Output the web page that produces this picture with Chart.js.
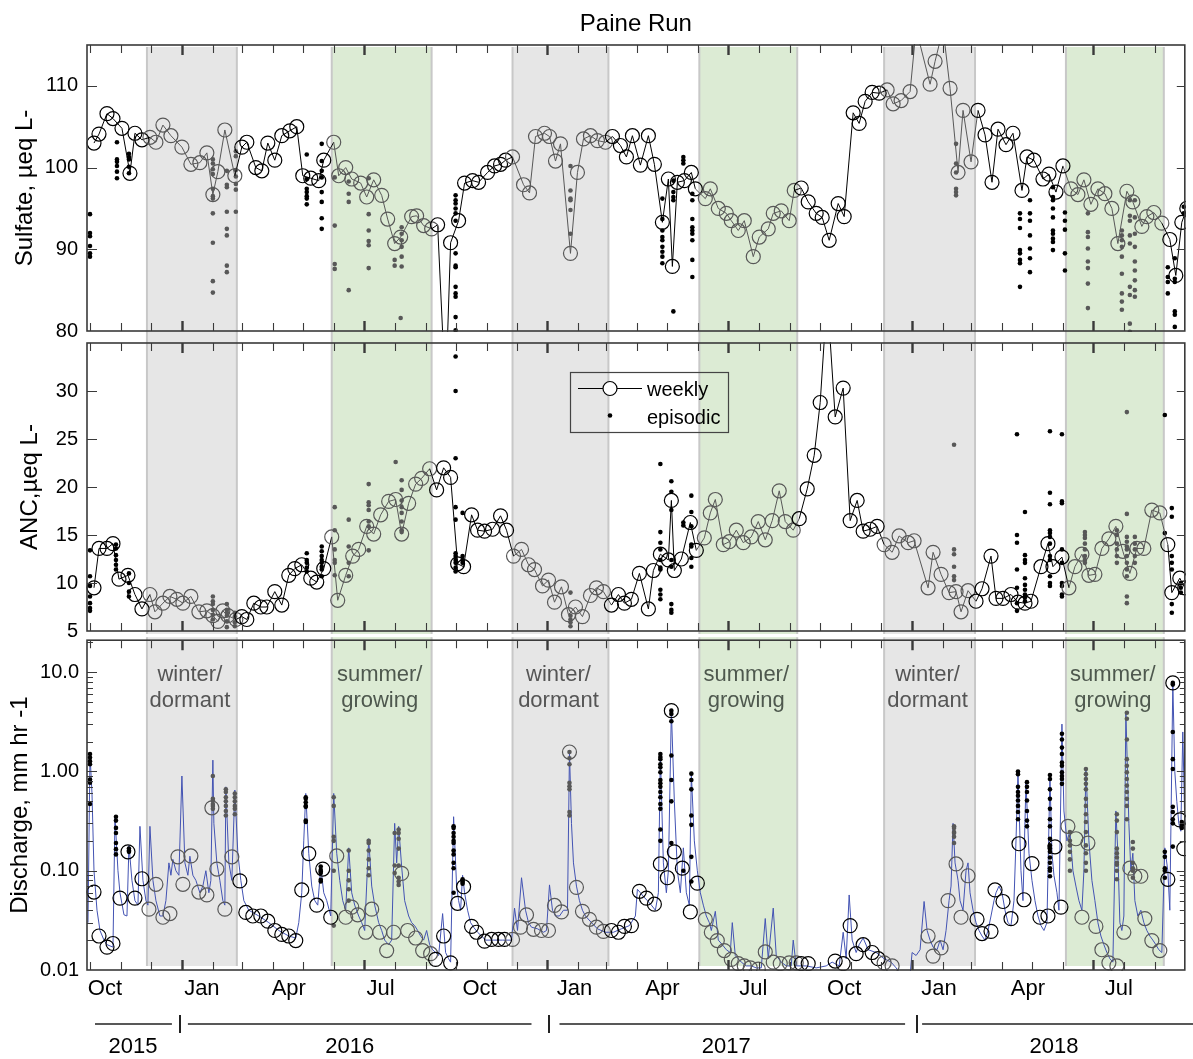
<!DOCTYPE html>
<html><head><meta charset="utf-8">
<script src="https://cdn.jsdelivr.net/npm/chart.js@4.4.1/dist/chart.umd.min.js"></script>
<style>
html,body{margin:0;padding:0;background:#fff;}
#wrap{position:relative;width:1193px;height:1059px;overflow:hidden;background:#fff;}
canvas{position:absolute;left:0;}
</style></head><body>
<div id="wrap">
<canvas id="cS" width="1193" height="345" style="top:0px"></canvas>
<canvas id="cA" width="1193" height="312" style="top:330px"></canvas>
<canvas id="cQ" width="1193" height="427" style="top:632px"></canvas>
</div>
<script>
// ---------- time axis: days since 2015-10-01 ----------
const xMin = -3, xMax = 1096;
const monthTickDays = [0,31,61,92,123,152,183,213,244,274,305,336,366,397,427,458,489,517,548,578,609,639,670,701,731,762,792,823,854,882,913,943,974,1004,1035,1066,1096];
const boldTickDays = [92,274,458,639,823,1004];
const monthLabels = ['Oct','Jan','Apr','Jul','Oct','Jan','Apr','Jul','Oct','Jan','Apr','Jul'];
const monthLabelDays = [15,112,199,291,390,485,573,664,755,850,939,1030];
const yearLabels = ['2015','2016','2017','2018'];
const yearLabelDays = [43,260,637,965];
const yearBreakDays = [90,460,828];
const winterBands = [[57,147],[423,519],[795,886]];
const summerBands = [[242,342],[610,708],[977,1075]];
const winterText = ['winter/','dormant'];
const summerText = ['summer/','growing'];

// ---------- Sulfate (ueq/L) ----------
const sulfTicks = [80,90,100,110];
const sulfWeekly = [[4,103.0],[9,104.1],[17,106.6],[23,106.0],[32,104.8],[40,99.3],[45,104.2],[52,103.4],[60,103.7],[66,103.1],[73,105.2],[81,103.9],[92,102.5],[101,100.4],[110,100.6],[117,101.8],[123,96.7],[128,99.5],[135,104.6],[145,99.0],[152,102.5],[157,103.1],[166,100.0],[172,99.6],[178,103.0],[185,100.9],[192,103.9],[200,104.5],[207,105.0],[213,99.0],[221,98.7],[229,98.4],[234,100.9],[244,103.1],[249,99.0],[256,100.0],[262,98.6],[271,98.1],[277,96.4],[284,98.5],[292,96.6],[298,93.7],[305,90.7],[311,91.5],[322,94.0],[327,94.1],[334,92.9],[342,92.5],[348,93.0],[356,72],[361,90.8],[369,93.5],[375,98.1],[383,98.4],[389,98.2],[398,99.4],[405,100.2],[411,100.4],[416,100.9],[423,101.3],[434,97.9],[440,96.9],[446,103.8],[455,104.2],[460,103.8],[466,100.8],[471,102.9],[481,89.5],[488,99.4],[494,103.5],[501,103.9],[508,103.3],[516,103.1],[523,103.8],[531,102.7],[537,101.3],[543,103.9],[551,100.3],[559,103.9],[565,100.4],[573,93.3],[579,98.6],[583,87.9],[588,98.2],[595,98.4],[602,99.4],[606,97.4],[616,96.2],[621,97.4],[629,95.0],[637,94.4],[642,93.5],[649,92.3],[655,93.5],[664,89.1],[670,91.5],[679,92.5],[684,94.4],[692,94.7],[700,93.5],[705,97.2],[712,97.5],[719,95.8],[727,94.4],[733,93.9],[740,91.1],[749,95.6],[755,94.0],[764,106.7],[770,105.4],[776,108.1],[783,109.2],[790,109.1],[798,109.5],[804,107.8],[812,108.2],[821,109.3],[827,117],[841,110.2],[846,113.0],[854,117],[861,109.7],[869,99.4],[874,107.0],[882,100.7],[889,107.0],[896,104.0],[903,98.2],[909,104.7],[917,102.8],[924,104.2],[933,97.2],[938,101.3],[945,100.9],[954,98.6],[960,99.2],[967,97.0],[974,100.2],[982,97.4],[989,96.7],[995,98.5],[1002,95.5],[1009,97.4],[1016,96.8],[1023,95.0],[1029,90.7],[1038,97.1],[1044,95.8],[1053,92.8],[1058,94.0],[1065,94.5],[1073,93.2],[1081,91.2],[1087,86.8],[1093,93.3],[1098,95.0]];
const sulfEpisodic = [
 [0,[94.3,92.0,91.6,90.4,89.5,89.1]],
 [27,[103.1,101.0,100.7,100.2,99.5,98.7]],
 [39,[101.7,101.3,101.0,100.1,99.3]],
 [123,[101.0,100.5,99.8,99.2,97.4,96.5,96.2,94.4,90.8,86.1,84.7]],
 [137,[99.6,97.9,97.6,94.6,92.5,91.7,88.0,87.2]],
 [146,[102.0,101.4,99.7,98.9,98.0,97.3,94.6]],
 [217,[101.6,98.6,97.4,97.0,96.5,96.2,95.5]],
 [232,[102.9,100.8,99.6,98.8,97.0,95.8,93.8,92.5]],
 [245,[98.8,92.9,88.2,87.6]],
 [259,[98.3,96.8,95.8,85.0]],
 [279,[98.7,94.3,92.3,91.0,90.5,87.7]],
 [305,[88.7,88.0]],
 [311,[81.6]],
 [312,[92.7,91.9,91.1,90.3,89.1,87.9]],
 [366,[96.6,96.0,95.6,95.0,94.4,93.5,89.5,88.0,87.8,85.4,84.6,84.2,81.7,80.1]],
 [481,[100.2,97.2,96.2,96.0,94.8,91.9]],
 [573,[96.2,93.7,92.3,91.5,91.1,90.3,89.7,89.1,88.3]],
 [584,[98.4,97.0,96.4,96.0,82.4]],
 [594,[101.3,100.9,100.5]],
 [603,[96.8,96.0,93.7,92.7,92.3,91.9,91.1,88.7,86.6]],
 [867,[102.9,100.5,99.4,97.4,97.0,96.6]],
 [931,[94.4,93.7,92.6,89.9,89.5,88.7,88.3,85.4]],
 [941,[96.0,94.4,93.5,91.7,90.1,88.9,87.2]],
 [964,[97.6,96.4,96.0,95.0,93.9,92.3,91.9,91.3,90.9,89.9]],
 [976,[94.5,93.5,92.4,89.5,87.4]],
 [999,[94.4,92.1,91.5,90.1,88.5,87.7,85.8,82.8]],
 [1033,[92.3,91.7,91.1,90.3,89.1,87.0,84.6,83.6,82.6]],
 [1041,[96.0,94.1,93.5,91.7,90.7,85.4,84.4,80.9,79.9]],
 [1046,[96.0,93.9,91.9,90.3,88.5,87.4,86.2,85.0,84.2]],
 [1079,[87.8,86.6,86.0,84.6]],
 [1086,[88.9,86.4,86.0,82.4,82.0,80.5]],
 [1095,[95.2,94.4]]
];

// ---------- ANC (ueq/L) ----------
const ancTicks = [5,10,15,20,25,30];
const ancWeekly = [[4,9.5],[9,13.6],[17,13.6],[23,14.1],[29,10.4],[38,10.8],[45,8.8],[52,7.3],[60,8.8],[65,7.0],[73,7.9],[80,8.6],[87,8.3],[93,7.9],[101,8.6],[109,7.0],[117,7.1],[123,6.6],[128,6.0],[133,7.1],[138,6.6],[146,6.2],[152,6.5],[157,6.2],[164,7.9],[171,7.5],[177,7.5],[185,9.1],[192,7.7],[199,10.8],[205,11.5],[212,11.9],[221,10.5],[227,10.1],[234,11.5],[242,14.8],[248,8.2],[256,10.8],[263,12.8],[269,13.5],[277,15.9],[284,15.1],[291,17.1],[299,18.5],[306,18.7],[312,15.1],[319,18.3],[326,20.3],[332,20.9],[340,21.9],[347,19.7],[354,22.0],[361,21.0],[368,12.0],[374,11.7],[382,17.1],[388,15.5],[395,15.4],[403,15.6],[411,17.0],[417,15.5],[424,12.8],[432,13.5],[439,11.9],[445,11.4],[453,9.7],[459,10.3],[465,8.0],[472,9.6],[479,6.7],[486,7.5],[493,6.5],[501,8.7],[507,9.5],[514,9.1],[522,7.7],[529,8.8],[535,7.9],[542,8.3],[550,11.0],[559,7.3],[564,11.3],[571,13.0],[579,12.4],[582,18.6],[585,11.3],[592,12.5],[601,16.3],[607,13.4],[615,14.7],[621,17.3],[626,18.7],[634,14.0],[640,14.3],[647,15.5],[654,14.2],[662,14.8],[669,16.4],[676,14.5],[683,16.5],[690,19.6],[696,16.4],[704,15.5],[710,16.7],[718,19.8],[725,23.3],[731,28.8],[738,40],[746,27.3],[754,30.3],[761,16.5],[768,18.6],[774,15.4],[781,15.6],[788,15.9],[795,14.0],[803,13.2],[810,14.9],[819,14.2],[825,14.4],[839,9.5],[844,13.2],[852,10.9],[860,9.0],[867,9.1],[872,7.0],[879,9.2],[887,8.1],[893,9.4],[902,12.8],[907,8.4],[914,8.4],[922,8.8],[929,8.0],[936,7.9],[942,8.1],[952,11.7],[959,14.1],[964,11.7],[973,12.7],[980,9.5],[986,11.7],[993,13.0],[1000,10.8],[1006,10.9],[1013,13.6],[1020,14.6],[1027,15.9],[1034,13.3],[1041,11.0],[1048,13.6],[1055,13.6],[1063,17.6],[1071,17.3],[1079,14.0],[1083,9.0],[1091,10.5],[1096,9.5]];
const ancEpisodic = [
 [0,[13.4,10.7,9.7,8.6,7.9,7.4,7.1]],
 [26,[14.0,13.6,12.9,12.4,11.9,11.4]],
 [39,[11.0,10.0,9.1,8.6]],
 [123,[8.6,8.1,7.8,7.2,6.7,6.2]],
 [137,[7.8,7.2,6.9,6.6,6.0,5.4]],
 [145,[6.9,6.5,5.9,5.5]],
 [217,[13.1,12.4,12.1,11.6,11.2]],
 [232,[13.8,13.3,12.8,12.4,12.1,11.7,11.4,10.7]],
 [245,[17.9,15.5,13.5,12.4,12.1,10.8]],
 [259,[16.6,13.8,12.1,10.7]],
 [279,[20.3,18.4,18.1,17.6,16.4,15.9,13.4]],
 [306,[22.6]],
 [312,[20.7,19.7,18.6,17.9,17.3,16.4,15.5,15.3]],
 [366,[33.6,30.0,23.0,17.9,16.6,13.1,12.8,12.4,12.1,11.6,11.2]],
 [373,[17.3,12.8,12.4,12.1]],
 [481,[9.0,6.6,6.2,5.9,5.5]],
 [571,[22.4,15.3,14.2,13.5,12.4,11.6,11.4,9.3,8.8,8.3]],
 [582,[20.6,19.5,17.6,12.4,11.7,7.8,7.2,6.9]],
 [594,[16.3,16.0]],
 [602,[19.1,17.4,15.9,14.0,13.8,12.6,11.7]],
 [865,[24.4,13.5,13.0,11.7,10.7,10.3]],
 [928,[25.5,15.0,14.2,11.4,9.5,7.9,7.1]],
 [936,[17.4,12.9,12.4,12.1,10.5,9.8,9.3,8.8,8.5,8.1]],
 [961,[25.8,19.4,18.2,15.5,15.2,14.8,14.1,12.8,12.4,10.7,10.0,9.7]],
 [973,[25.5,18.5,18.3,13.5,12.1,10.0,9.7,8.8,8.6]],
 [996,[15.3,15.0,14.7,14.1,13.5,12.8,12.4,12.1]],
 [1028,[15.5,15.0,14.1,13.5,12.8,12.1]],
 [1038,[27.8,17.2,14.8,14.3,13.8,13.5,12.8,12.1,11.4,10.7,8.6,7.9]],
 [1046,[14.8,14.1,13.5,12.8,12.1]],
 [1076,[27.5,15.2]],
 [1083,[17.8,16.9,12.8,12.1,11.4,7.8,6.9]],
 [1092,[10.0,9.5,9.0]]
];

// ---------- Discharge (mm/hr) ----------
const qTicks = [0.01,0.1,1,10];
const qTickLabels = ['0.01','0.10','1.00','10.0'];
const qWeekly = [[4,0.061],[9,0.022],[17,0.017],[23,0.0185],[30,0.053],[38,0.155],[45,0.053],[52,0.083],[59,0.041],[66,0.073],[73,0.034],[80,0.037],[88,0.138],[93,0.073],[101,0.141],[109,0.061],[117,0.057],[122,0.43],[127,0.104],[135,0.041],[142,0.138],[150,0.079],[156,0.038],[163,0.035],[171,0.035],[178,0.031],[185,0.025],[192,0.0228],[199,0.022],[206,0.0198],[212,0.064],[219,0.149],[227,0.045],[233,0.104],[241,0.034],[247,0.141],[256,0.034],[262,0.043],[268,0.036],[276,0.024],[282,0.041],[290,0.024],[297,0.0157],[304,0.024],[312,0.094],[318,0.025],[326,0.021],[333,0.0157],[341,0.0146],[346,0.0128],[354,0.022],[361,0.0118],[368,0.047],[374,0.069],[382,0.0275],[387,0.024],[395,0.0195],[402,0.0203],[409,0.0203],[415,0.0203],[423,0.0203],[431,0.027],[437,0.036],[444,0.0257],[452,0.025],[459,0.025],[465,0.0447],[472,0.0385],[480,1.57],[487,0.068],[493,0.039],[500,0.0324],[507,0.027],[514,0.0245],[522,0.025],[529,0.024],[535,0.0275],[542,0.028],[550,0.062],[557,0.053],[565,0.046],[571,0.117],[578,0.085],[582,4.1],[585,0.155],[593,0.106],[601,0.0385],[608,0.075],[616,0.0324],[622,0.024],[628,0.0198],[635,0.0157],[642,0.0128],[649,0.0116],[655,0.011],[661,0.0105],[669,0.0102],[676,0.0152],[684,0.012],[691,0.0116],[700,0.0118],[707,0.0118],[712,0.0116],[719,0.0116],[746,0.0123],[754,0.0116],[761,0.028],[767,0.0146],[774,0.018],[783,0.015],[789,0.013],[795,0.0118],[803,0.011],[839,0.022],[844,0.0138],[852,0.0167],[859,0.05],[867,0.117],[872,0.034],[879,0.089],[888,0.0324],[893,0.0233],[902,0.0245],[906,0.064],[914,0.049],[922,0.0329],[930,0.187],[935,0.051],[943,0.118],[951,0.034],[959,0.035],[966,0.174],[972,0.043],[979,0.28],[987,0.21],[993,0.034],[999,0.19],[1007,0.0275],[1013,0.016],[1020,0.0118],[1028,0.011],[1035,0.024],[1041,0.106],[1046,0.088],[1052,0.088],[1056,0.033],[1063,0.0198],[1071,0.0157],[1079,0.082],[1084,7.8],[1091,0.325],[1095,0.167]];
const qEpisodic = [
 [0,[1.5,1.38,1.27,1.18,0.83,0.77,0.47]],
 [26,[0.35,0.32,0.27,0.24,0.19,0.165,0.146]],
 [39,[0.167,0.16,0.155]],
 [123,[0.9,0.53,0.51,0.47,0.45,0.42]],
 [136,[0.66,0.62,0.55,0.5,0.45,0.4,0.36]],
 [145,[0.6,0.55,0.5,0.45,0.42,0.37]],
 [216,[0.55,0.53,0.49,0.45,0.44,0.32,0.31]],
 [231,[0.11,0.102,0.098,0.095,0.081,0.078]],
 [244,[0.55,0.45,0.22,0.2,0.1,0.028]],
 [259,[0.16,0.1,0.08,0.065,0.05]],
 [279,[0.2,0.19,0.16,0.13,0.106,0.09]],
 [305,[0.24,0.113,0.095]],
 [309,[0.26,0.24,0.21,0.167,0.113,0.085,0.078,0.072]],
 [364,[0.28,0.27,0.24,0.22,0.2,0.19,0.16,0.146,0.12,0.106,0.06]],
 [373,[0.082,0.079,0.077,0.074]],
 [480,[1.57,1.36,1.18,0.77,0.71,0.66,0.39,0.36]],
 [571,[1.5,1.4,1.33,1.18,1.1,0.98,0.82,0.76,0.7,0.62,0.55,0.47,0.42,0.26,0.2]],
 [582,[4.1,3.8,3.2,1.45,0.82,0.5,0.19]],
 [594,[0.1]],
 [602,[0.95,0.82,0.66,0.36,0.29,0.138,0.078]],
 [865,[0.28,0.27,0.245,0.24,0.22,0.19]],
 [929,[1.0,0.94,0.7,0.62,0.57,0.51,0.45,0.39,0.33]],
 [938,[0.78,0.7,0.62,0.51,0.4,0.32,0.28]],
 [961,[0.92,0.84,0.66,0.53,0.42,0.33,0.28,0.21,0.18,0.167,0.155,0.136,0.12,0.106,0.1,0.088]],
 [973,[2.4,2.1,1.74,1.5,1.23,1.14,0.98,0.9,0.84,0.75]],
 [981,[0.245,0.2,0.18,0.155,0.13,0.1]],
 [997,[1.06,0.94,0.84,0.75,0.66,0.53,0.45,0.37,0.31,0.245,0.18,0.15,0.12,0.1]],
 [1028,[0.37,0.32,0.245,0.167,0.15,0.136,0.12,0.115,0.1,0.082]],
 [1038,[3.9,3.4,2.1,1.33,1.14,0.98,0.84,0.72,0.62,0.53,0.45,0.33]],
 [1044,[0.195,0.167,0.12,0.106,0.1,0.085]],
 [1076,[0.155,0.138,0.106,0.1,0.085]],
 [1084,[7.8,7.5,2.5,1.33,1.06,0.44,0.39,0.33,0.3,0.175]],
 [1093,[0.31,0.29,0.27]]
];
const qContinuous = [[-2,0.03],[0,1.5],[2,0.6],[4,0.1],[7,0.04],[10,0.025],[14,0.02],[17,0.018],[23,0.017],[25,0.35],[28,0.1],[30,0.06],[34,0.036],[37,0.035],[39,0.18],[42,0.08],[45,0.05],[48,0.045],[50,0.28],[53,0.08],[56,0.05],[58,0.045],[60,0.28],[63,0.08],[66,0.05],[70,0.035],[73,0.035],[76,0.05],[79,0.12],[81,0.09],[83,0.13],[86,0.1],[89,0.09],[92,0.9],[95,0.12],[98,0.09],[100,0.14],[103,0.09],[106,0.08],[110,0.06],[113,0.07],[116,0.1],[119,0.06],[121,0.08],[123,1.3],[124,0.3],[127,0.12],[130,0.08],[133,0.05],[135,0.045],[136,0.7],[139,0.12],[142,0.08],[145,0.65],[148,0.15],[151,0.08],[154,0.05],[159,0.04],[169,0.035],[179,0.03],[189,0.025],[199,0.022],[206,0.021],[209,0.03],[212,0.06],[214,0.2],[216,0.6],[219,0.15],[222,0.07],[225,0.05],[228,0.045],[231,0.11],[234,0.06],[237,0.05],[241,0.035],[244,0.6],[247,0.15],[250,0.08],[253,0.05],[256,0.04],[259,0.17],[262,0.06],[265,0.045],[269,0.035],[272,0.03],[275,0.025],[279,0.21],[282,0.07],[285,0.045],[289,0.03],[292,0.025],[295,0.02],[299,0.018],[302,0.02],[305,0.3],[307,0.12],[309,0.28],[312,0.11],[315,0.05],[319,0.035],[322,0.03],[325,0.028],[328,0.025],[331,0.022],[334,0.02],[337,0.025],[340,0.018],[343,0.016],[346,0.015],[349,0.014],[353,0.037],[356,0.015],[359,0.013],[361,0.012],[364,0.35],[367,0.07],[369,0.05],[371,0.04],[373,0.09],[375,0.06],[378,0.04],[381,0.03],[384,0.027],[388,0.024],[392,0.022],[396,0.02],[404,0.02],[413,0.02],[422,0.02],[425,0.042],[428,0.025],[432,0.085],[436,0.04],[439,0.03],[442,0.027],[448,0.026],[454,0.024],[457,0.025],[460,0.072],[463,0.04],[466,0.035],[470,0.035],[474,0.04],[478,0.04],[480,1.57],[482,0.3],[484,0.12],[487,0.07],[490,0.05],[493,0.04],[496,0.035],[502,0.03],[508,0.026],[516,0.024],[524,0.024],[532,0.026],[540,0.028],[546,0.035],[548,0.065],[551,0.06],[554,0.055],[558,0.05],[562,0.045],[566,0.04],[569,0.06],[571,1.5],[574,0.12],[577,0.06],[579,0.1],[582,4.1],[585,0.5],[588,0.1],[591,0.06],[594,0.17],[597,0.06],[600,0.045],[602,0.95],[605,0.2],[608,0.1],[611,0.06],[614,0.045],[617,0.035],[620,0.03],[622,0.025],[626,0.039],[629,0.02],[633,0.018],[637,0.016],[641,0.015],[643,0.03],[646,0.014],[652,0.012],[657,0.011],[662,0.011],[667,0.0105],[672,0.0105],[676,0.033],[679,0.013],[684,0.042],[687,0.014],[692,0.012],[697,0.011],[702,0.011],[704,0.02],[707,0.011],[717,0.011],[727,0.0105],[737,0.011],[743,0.012],[750,0.011],[754,0.024],[757,0.013],[760,0.057],[763,0.02],[767,0.015],[770,0.018],[774,0.021],[779,0.016],[787,0.015],[795,0.013],[802,0.012],[807,0.0105],[812,0.009],[821,0.009],[823,0.015],[827,0.014],[831,0.016],[835,0.049],[838,0.025],[841,0.02],[844,0.017],[848,0.016],[851,0.02],[854,0.016],[857,0.025],[860,0.05],[862,0.07],[864,0.3],[866,0.12],[869,0.08],[871,0.05],[874,0.04],[877,0.1],[879,0.12],[881,0.06],[884,0.04],[887,0.03],[890,0.025],[893,0.022],[896,0.02],[899,0.025],[902,0.035],[905,0.05],[907,0.06],[910,0.07],[913,0.06],[916,0.04],[919,0.03],[922,0.028],[925,0.05],[927,0.2],[929,1.0],[932,0.1],[934,0.05],[937,0.78],[940,0.15],[943,0.08],[946,0.05],[949,0.035],[952,0.028],[955,0.025],[958,0.03],[961,0.9],[963,0.15],[965,0.09],[968,0.06],[970,0.04],[973,3.0],[975,0.4],[978,0.2],[981,0.25],[984,0.1],[987,0.07],[990,0.05],[993,0.04],[995,0.1],[997,1.06],[1000,0.2],[1003,0.08],[1006,0.05],[1009,0.03],[1012,0.022],[1015,0.018],[1018,0.015],[1021,0.013],[1024,0.012],[1027,0.4],[1029,0.15],[1031,0.03],[1033,0.025],[1035,0.035],[1037,4.0],[1040,0.3],[1042,0.1],[1044,0.15],[1046,0.05],[1049,0.035],[1052,0.04],[1055,0.03],[1058,0.025],[1061,0.022],[1064,0.02],[1067,0.018],[1070,0.016],[1073,0.015],[1076,0.17],[1079,0.1],[1081,0.04],[1084,7.8],[1086,1.0],[1088,0.5],[1090,0.3],[1092,0.25],[1094,2.5],[1096,0.3]];

// ---------- styling ----------
const FONT = "'Liberation Sans', Arial, Helvetica, sans-serif";
const GRAY = '#585858';
const BLUE = '#4353b3';
const FRAME = '#3a3a3a';
const WINTER_FILL = 'rgb(230,230,230)';
const SUMMER_FILL = 'rgb(220,235,212)';
const BAND_EDGE = 'rgb(200,200,200)';

const allBands = winterBands.concat(summerBands);
const inBand = d => allBands.some(([a,b]) => d >= a && d <= b);
const colAt = d => inBand(d) ? GRAY : '#000';
const toXY = arr => arr.map(([x,y]) => ({x, y}));
const flat = arr => arr.flatMap(([d, vals]) => vals.map(v => ({x: d, y: v})));

function weeklyDS(arr, showLine) {
  return {
    data: toXY(arr), showLine: showLine, borderWidth: 1, borderColor: '#000',
    pointRadius: 7, pointBorderWidth: 1.2, pointBackgroundColor: 'rgba(0,0,0,0)',
    pointBorderColor: c => colAt(c.raw ? c.raw.x : 0),
    segment: { borderColor: c => colAt((c.p0.parsed.x + c.p1.parsed.x) / 2) },
    tension: 0, clip: 1
  };
}
function episodicDS(arr) {
  return {
    data: flat(arr), showLine: false, pointRadius: 2.3, pointBorderWidth: 0,
    pointBackgroundColor: c => colAt(c.raw ? c.raw.x : 0), clip: 1
  };
}

const bandsPlugin = {
  id: 'bands',
  beforeDatasetsDraw(chart, args, o) {
    const {ctx, chartArea: {top, bottom}, scales: {x}} = chart;
    const y0 = top + (o.extTop || 0), y1 = bottom + (o.extBottom || 0);
    ctx.save();
    const draw = (list, fill) => list.forEach(([a, b]) => {
      const p0 = x.getPixelForValue(a), p1 = x.getPixelForValue(b);
      ctx.fillStyle = fill; ctx.fillRect(p0, y0, p1 - p0, y1 - y0);
      ctx.strokeStyle = BAND_EDGE; ctx.lineWidth = 2;
      ctx.beginPath(); ctx.moveTo(p0, y0); ctx.lineTo(p0, y1); ctx.moveTo(p1, y0); ctx.lineTo(p1, y1); ctx.stroke();
    });
    draw(winterBands, WINTER_FILL);
    draw(summerBands, SUMMER_FILL);
    if (o.labels) {
      ctx.font = '22px ' + FONT; ctx.textAlign = 'center'; ctx.textBaseline = 'middle';
      const lab = (list, txt, col) => list.forEach(([a, b]) => {
        const cx = (x.getPixelForValue(a) + x.getPixelForValue(b)) / 2;
        ctx.fillStyle = col;
        ctx.fillText(txt[0], cx - 2, top + 35);
        ctx.fillText(txt[1], cx - 2, top + 61);
      });
      lab(winterBands, winterText, '#555555');
      lab(summerBands, summerText, '#4e584e');
    }
    ctx.restore();
  }
};

const framePlugin = {
  id: 'frame',
  afterDatasetsDraw(chart, args, o) {
    const {ctx, chartArea: {left, right, top, bottom}} = chart;
    const xs = chart.scales.x, ys = chart.scales.y;
    ctx.save();
    ctx.strokeStyle = FRAME;
    monthTickDays.forEach(d => {
      const px = Math.round(xs.getPixelForValue(d)) + 0.5;
      if (px < left + 2 || px > right - 2) return;
      const b = boldTickDays.includes(d);
      ctx.lineWidth = b ? 2.4 : 1.1;
      const len = b ? 10 : 8;
      ctx.beginPath();
      ctx.moveTo(px, top); ctx.lineTo(px, top + len);
      ctx.moveTo(px, bottom); ctx.lineTo(px, bottom - len);
      ctx.stroke();
    });
    ctx.lineWidth = 1.1;
    ys.ticks.forEach(t => {
      const py = Math.round(ys.getPixelForValue(t.value)) + 0.5;
      if (py < top + 1 || py > bottom - 1) return;
      ctx.beginPath(); ctx.moveTo(left, py); ctx.lineTo(left + 10, py);
      ctx.moveTo(right, py); ctx.lineTo(right - 8, py); ctx.stroke();
    });
    (o.minor || []).forEach(v => {
      const py = Math.round(ys.getPixelForValue(v)) + 0.5;
      if (py < top + 1 || py > bottom - 1) return;
      ctx.beginPath(); ctx.moveTo(left, py); ctx.lineTo(left + 6, py);
      ctx.moveTo(right, py); ctx.lineTo(right - 5, py); ctx.stroke();
    });
    ctx.lineWidth = 1.6;
    ctx.strokeRect(left, top, right - left, bottom - top);
    ctx.restore();
  }
};

const legendPlugin = {
  id: 'legendBox',
  afterDraw(chart) {
    const {ctx, chartArea: {top}} = chart;
    const bx = 570.5, by = top + 29.5, bw = 158, bh = 60;
    ctx.save();
    ctx.strokeStyle = '#444'; ctx.lineWidth = 1.2;
    ctx.strokeRect(bx, by, bw, bh);
    ctx.strokeStyle = '#000'; ctx.lineWidth = 1;
    ctx.beginPath(); ctx.moveTo(578, by + 16); ctx.lineTo(642, by + 16); ctx.stroke();
    ctx.beginPath(); ctx.arc(610, by + 16, 7, 0, Math.PI * 2); ctx.fillStyle = '#fff'; ctx.fill();
    ctx.lineWidth = 1.2; ctx.stroke();
    ctx.fillStyle = '#000';
    ctx.beginPath(); ctx.arc(610, by + 43, 2.3, 0, Math.PI * 2); ctx.fill();
    ctx.font = '20px ' + FONT; ctx.textAlign = 'left'; ctx.textBaseline = 'middle';
    ctx.fillText('weekly', 647, by + 18);
    ctx.fillText('episodic', 647, by + 46);
    ctx.restore();
  }
};

const yearPlugin = {
  id: 'yearRow',
  afterDraw(chart) {
    const {ctx, chartArea: {bottom}, scales: {x}} = chart;
    const y = bottom + 54;
    const px = d => x.getPixelForValue(d);
    ctx.save();
    ctx.strokeStyle = '#222'; ctx.lineWidth = 1.5;
    const segs = [[px(5), px(yearBreakDays[0]) - 8], [px(yearBreakDays[0]) + 8, px(yearBreakDays[1]) - 18],
                  [px(yearBreakDays[1]) + 10, px(yearBreakDays[2]) - 12], [px(yearBreakDays[2]) + 5, 1193]];
    ctx.beginPath();
    segs.forEach(([a, b]) => { ctx.moveTo(a, y); ctx.lineTo(b, y); });
    ctx.stroke();
    ctx.lineWidth = 2;
    ctx.beginPath();
    yearBreakDays.forEach(d => { const p = Math.round(px(d)); ctx.moveTo(p, y - 9); ctx.lineTo(p, y + 9); });
    ctx.stroke();
    ctx.restore();
  }
};

function yAxis(extra) {
  return Object.assign({
    position: 'left',
    grid: {display: false, drawTicks: false},
    border: {display: false},
    ticks: {font: {size: 20, family: FONT, lineHeight: 1}, color: '#000', padding: 9, autoSkip: false},
    afterFit: s => { s.width = 87; s.paddingTop = 0; s.paddingBottom = 0; }
  }, extra);
}
const hiddenX = {type: 'linear', display: false, min: xMin, max: xMax};
const common = {
  responsive: false, animation: false, events: [],
  plugins: {legend: {display: false}, tooltip: {enabled: false}}
};

// ---------- Chart A: Sulfate ----------
new Chart(document.getElementById('cS'), {
  type: 'line',
  data: {datasets: [weeklyDS(sulfWeekly, true), episodicDS(sulfEpisodic)]},
  options: Object.assign({}, common, {
    layout: {padding: {top: 0, bottom: 14, left: 0, right: 3}},
    plugins: Object.assign({}, common.plugins, {
      title: {display: true, fullSize: false, text: 'Paine Run', color: '#000', font: {size: 24, family: FONT, weight: 'normal', lineHeight: 1.2}, padding: {top: 10, bottom: 6.2}},
      bands: {extTop: 2, extBottom: 6},
      frame: {}
    }),
    scales: {
      x: hiddenX,
      y: yAxis({
        min: 80, max: 115,
        afterBuildTicks: s => { s.ticks = sulfTicks.map(v => ({value: v})); },
        title: {display: true, text: 'Sulfate, µeq L-', color: '#000', font: {size: 24, family: FONT, lineHeight: 1.2}, padding: {top: 10.6, bottom: 0}}
      })
    }
  }),
  plugins: [bandsPlugin, framePlugin]
});

// ---------- Chart B: ANC ----------
new Chart(document.getElementById('cA'), {
  type: 'line',
  data: {datasets: [weeklyDS(ancWeekly, true), episodicDS(ancEpisodic)]},
  options: Object.assign({}, common, {
    layout: {padding: {top: 13, bottom: 11, left: 0, right: 3}},
    plugins: Object.assign({}, common.plugins, {
      bands: {extTop: -6, extBottom: 3},
      frame: {}
    }),
    scales: {
      x: hiddenX,
      y: yAxis({
        min: 5, max: 35,
        afterBuildTicks: s => { s.ticks = ancTicks.map(v => ({value: v})); },
        title: {display: true, text: 'ANC,µeq L-', color: '#000', font: {size: 24, family: FONT, lineHeight: 1.2}, padding: {top: 16.3, bottom: 0}}
      })
    }
  }),
  plugins: [bandsPlugin, framePlugin, legendPlugin]
});

// ---------- Chart C: Discharge ----------
const qMinor = [];
[0.01, 0.1, 1, 10].forEach(dec => { for (let k = 2; k <= 9; k++) qMinor.push(k * dec); });
new Chart(document.getElementById('cQ'), {
  type: 'line',
  data: {datasets: [
    weeklyDS(qWeekly, false),
    episodicDS(qEpisodic),
    {data: toXY(qContinuous), borderColor: BLUE, borderWidth: 1, pointRadius: 0, tension: 0, clip: 1}
  ]},
  options: Object.assign({}, common, {
    layout: {padding: {top: 5, bottom: 1, left: 0, right: 3}},
    plugins: Object.assign({}, common.plugins, {
      bands: {extTop: -3, extBottom: -4, labels: true},
      frame: {minor: qMinor}
    }),
    scales: {
      x: {
        type: 'linear', position: 'bottom', min: xMin, max: xMax, weight: 0,
        grid: {display: false, drawTicks: false}, border: {display: false},
        afterBuildTicks: s => { s.ticks = monthLabelDays.map(v => ({value: v})); },
        ticks: {autoSkip: false, maxRotation: 0, minRotation: 0, padding: 5.8, color: '#000',
                font: {size: 22, family: FONT, lineHeight: 1.2},
                callback: (v, i) => monthLabels[i]},
        afterFit: s => { s.height = 32.2; s.paddingLeft = 0; s.paddingRight = 0; }
      },
      x2: {
        type: 'linear', position: 'bottom', min: xMin, max: xMax, weight: 1,
        grid: {display: false, drawTicks: false}, border: {display: false},
        afterBuildTicks: s => { s.ticks = yearLabelDays.map(v => ({value: v})); },
        ticks: {autoSkip: false, maxRotation: 0, minRotation: 0, padding: 33.8, color: '#000',
                font: {size: 22, family: FONT, lineHeight: 1.0},
                callback: (v, i) => yearLabels[i]},
        afterFit: s => { s.height = 55.8; s.paddingLeft = 0; s.paddingRight = 0; }
      },
      y: yAxis({
        type: 'logarithmic', min: 0.01, max: 21,
        afterBuildTicks: s => { s.ticks = qTicks.map(v => ({value: v})); },
        ticks: {font: {size: 20, family: FONT, lineHeight: 1}, color: '#000', padding: 8, autoSkip: false,
                callback: (v, i) => qTickLabels[i]},
        title: {display: true, text: 'Discharge, mm hr -1', color: '#000', font: {size: 24, family: FONT, lineHeight: 1.2}, padding: {top: 6.3, bottom: 0}}
      })
    }
  }),
  plugins: [bandsPlugin, framePlugin, yearPlugin]
});
</script>
</body></html>
